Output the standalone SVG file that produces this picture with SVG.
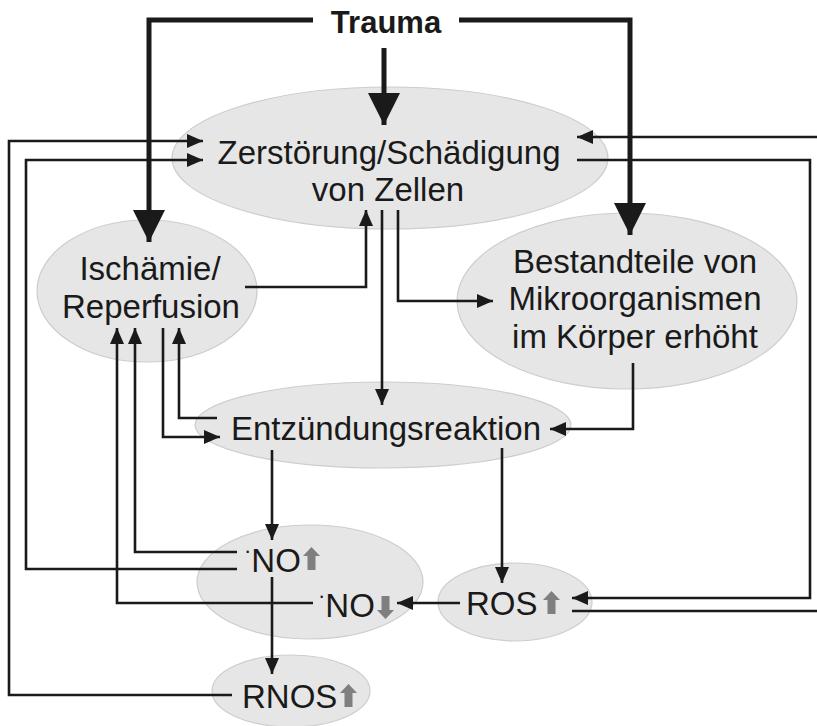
<svg xmlns="http://www.w3.org/2000/svg" width="817" height="726" viewBox="0 0 817 726">
<style>
.node ellipse{fill:#e6e6e6;stroke:#cdcdcd;stroke-width:1.2}
.lbl{font-family:"Liberation Sans",Arial,sans-serif;font-size:33px;fill:#1a1a1a;text-anchor:middle}
.lblL{font-family:"Liberation Sans",Arial,sans-serif;font-size:33px;fill:#1a1a1a}
.dot{font-size:22px}
.trauma{font-family:"Liberation Sans",Arial,sans-serif;font-size:31px;font-weight:bold;fill:#1a1a1a;text-anchor:middle}
.thin{fill:none;stroke:#1a1a1a;stroke-width:2.6;marker-end:url(#ah)}
.thinN{fill:none;stroke:#1a1a1a;stroke-width:2.6}
.thick{fill:none;stroke:#1a1a1a;stroke-width:5;marker-end:url(#ahBig)}
.gray{fill:#7f7f7f}
</style>
<defs>
<marker id="ah" markerUnits="userSpaceOnUse" markerWidth="16" markerHeight="14" refX="16" refY="7" orient="auto">
<path d="M0,0 L16,7 L0,14 z" fill="#1a1a1a"/>
</marker>
<marker id="ahBig" markerUnits="userSpaceOnUse" markerWidth="32" markerHeight="32" refX="32" refY="16" orient="auto">
<path d="M0,0 L32,16 L0,32 z" fill="#1a1a1a"/>
</marker>
<path id="up" d="M8.5,0 L17,9 L12.5,9 L12.5,23 L4.5,23 L4.5,9 L0,9 z"/>
<path id="down" d="M4.5,0 L12.5,0 L12.5,14 L17,14 L8.5,23 L0,14 L4.5,14 z"/>
</defs>

<g id="trauma">
<text class="trauma" x="386" y="33">Trauma</text>
</g>

<g id="zerstoerung" class="node">
<ellipse cx="390" cy="158" rx="218" ry="71"/>
<text class="lbl" x="389" y="164">Zerstörung/Schädigung</text>
<text class="lbl" x="388" y="201">von Zellen</text>
</g>

<g id="ischaemie" class="node">
<ellipse cx="147" cy="291" rx="110" ry="71"/>
<text class="lbl" x="150" y="280">Ischämie/</text>
<text class="lbl" x="151" y="318">Reperfusion</text>
</g>

<g id="bestandteile" class="node">
<ellipse cx="627" cy="301" rx="170" ry="88"/>
<text class="lbl" x="635" y="273">Bestandteile von</text>
<text class="lbl" x="635" y="310">Mikroorganismen</text>
<text class="lbl" x="635" y="348">im Körper erhöht</text>
</g>

<g id="entzuendung" class="node">
<ellipse cx="383" cy="425" rx="188" ry="43"/>
<text class="lbl" x="386" y="440">Entzündungsreaktion</text>
</g>

<g id="no" class="node">
<ellipse cx="310" cy="582" rx="113" ry="57"/>
<text class="lblL" x="244" y="572"><tspan class="dot" dy="-14">·</tspan><tspan dy="14">NO</tspan></text>
<use href="#up" class="gray" x="303" y="547"/>
<text class="lblL" x="318" y="617"><tspan class="dot" dy="-14">·</tspan><tspan dy="14">NO</tspan></text>
<use href="#down" class="gray" x="377" y="596"/>
</g>

<g id="ros" class="node">
<ellipse cx="515" cy="602" rx="77" ry="39"/>
<text class="lblL" x="466" y="615">ROS</text>
<use href="#up" class="gray" x="543" y="591"/>
</g>

<g id="rnos" class="node">
<ellipse cx="291" cy="691" rx="79" ry="36"/>
<text class="lblL" x="242" y="708">RNOS</text>
<use href="#up" class="gray" x="340" y="684"/>
</g>

<g id="connectors">
<path class="thick" d="M313,20 L149,20 L149,242"/>
<path class="thick" d="M384,48 L384,125"/>
<path class="thick" d="M459,20 L630,20 L630,235"/>

<path class="thin" d="M232,695 L9,695 L9,141 L203,141"/>
<path class="thin" d="M237,569 L26,569 L26,160 L203,160"/>
<path class="thin" d="M237,552 L135,552 L135,328"/>
<path class="thin" d="M313,603 L117,603 L117,328"/>
<path class="thin" d="M163,328 L163,437 L220,437"/>
<path class="thin" d="M217,418 L179,418 L179,328"/>
<path class="thin" d="M245,287 L366,287 L366,210"/>
<path class="thin" d="M382,210 L382,405"/>
<path class="thin" d="M398,210 L398,301 L493,301"/>
<path class="thin" d="M633,363 L633,429 L550,429"/>
<path class="thin" d="M272,450 L272,540"/>
<path class="thin" d="M502,448 L502,583"/>
<path class="thin" d="M272,577 L272,674"/>
<path class="thin" d="M460,603 L397,603"/>
<path class="thin" d="M577,160 L810,160 L810,598 L572,598"/>
<path class="thin" d="M572,611 L830,611 L830,137 L577,137"/>
</g>
</svg>
